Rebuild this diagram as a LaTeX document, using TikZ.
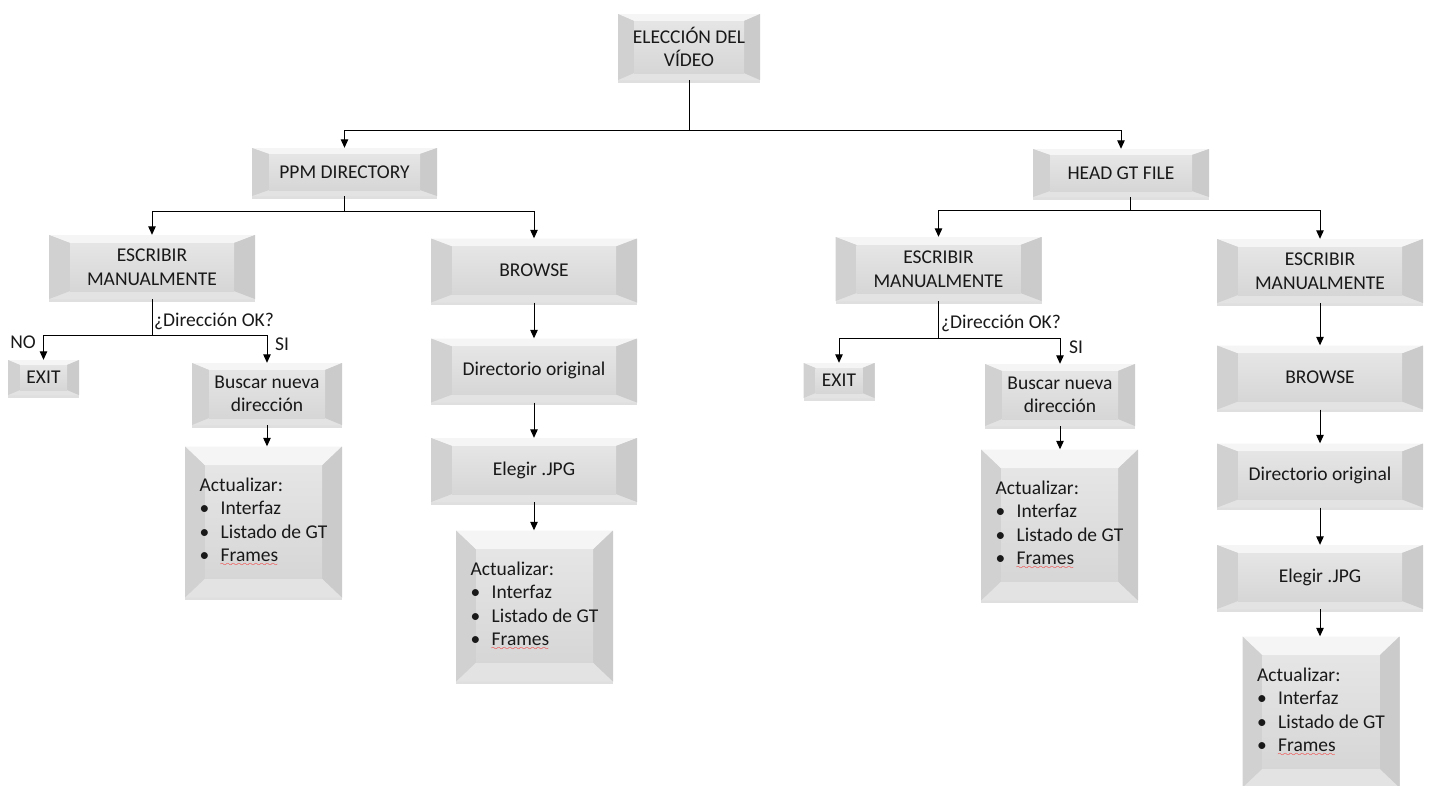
\documentclass[tikz,border=0pt]{standalone}
\usepackage{fontspec}
\setmainfont{Carlito}
\usetikzlibrary{arrows.meta,shadows}

\font\spellfont=lasy8
\newcommand\spellerr[1]{\setbox0\hbox{#1}%
  \rlap{\textcolor{red}{\lower4.5pt\hbox to\wd0{\leaders\hbox{\spellfont\char58}\hfill}}}#1}
\newcommand\actualizar{Actualizar:\\
  \makebox[21pt][l]{\textbullet}Interfaz\\
  \makebox[21pt][l]{\textbullet}Listado de GT\\
  \makebox[21pt][l]{\textbullet}\spellerr{Frames}}

\tikzset{
  bevelbox/.style 2 args={fill=gray!25, path picture={
      \coordinate (bbnw) at (path picture bounding box.north west);
      \coordinate (bbne) at (path picture bounding box.north east);
      \coordinate (bbsw) at (path picture bounding box.south west);
      \coordinate (bbse) at (path picture bounding box.south east);
      \fill[gray!8] (bbnw) -- (bbne) -- ([shift={(-#1,-#2)}]bbne) -- ([shift={(#1,-#2)}]bbnw) -- cycle;
      \fill[gray!22] (bbsw) -- (bbse) -- ([shift={(-#1,#2)}]bbse) -- ([shift={(#1,#2)}]bbsw) -- cycle;
      \fill[gray!36] (bbnw) -- (bbsw) -- ([shift={(#1,#2)}]bbsw) -- ([shift={(#1,-#2)}]bbnw) -- cycle;
      \fill[gray!41] (bbne) -- (bbse) -- ([shift={(-#1,#2)}]bbse) -- ([shift={(-#1,-#2)}]bbne) -- cycle;
      \shade[top color=gray!20, bottom color=gray!32]
        ([shift={(#1,-#2)}]bbnw) rectangle ([shift={(-#1,#2)}]bbse);
    }}
}

\begin{document}
\begin{tikzpicture}[x=1pt, y=-1pt,
    box/.style={font=\fontsize{19.5}{23.5}\selectfont, text=black!90, align=center, inner sep=0pt,
      drop shadow={opacity=0.25, shadow xshift=0pt, shadow yshift=-2.5pt}},
    step box/.style={box, bevelbox={21pt}{8pt}, minimum width=206pt, minimum height=64pt},
    head box/.style={box, bevelbox={17pt}{6pt}, minimum height=48pt},
    exit box/.style={box, bevelbox={12pt}{5pt}, minimum width=71pt, minimum height=35pt},
    find box/.style={box, bevelbox={17pt}{7pt}, minimum width=150pt, minimum height=62pt},
    upd box/.style={box, bevelbox={20pt}{19pt}, align=left, minimum width=157pt, minimum height=151pt},
    lbl/.style={font=\fontsize{19.5}{23.5}\selectfont, text=black!90, inner sep=0pt},
    lnk/.style={line width=1pt},
    arr/.style={lnk, -{Triangle[width=7.5pt,length=8.5pt]}}
  ]
  \useasboundingbox (0,0) rectangle (1430,785);

  % top
  \node[box, bevelbox={16pt}{7pt}, minimum width=142pt, minimum height=66pt] (video) at (689,47) {ELECCIÓN DEL\\VÍDEO};
  \node[head box, minimum width=185pt] (ppm) at (344.5,172) {PPM DIRECTORY};
  \node[head box, minimum width=176pt] (head) at (1121,173) {HEAD GT FILE};

  % left branch: PPM directory
  \node[step box] (escL) at (152,267) {ESCRIBIR\\MANUALMENTE};
  \node[exit box] (exitL) at (43.5,377.5) {EXIT};
  \node[find box] (buscL) at (267,394) {Buscar nueva\\dirección};
  \node[upd box] (actL) at (263.5,522) {\actualizar};
  \node[step box] (browseL) at (534,270.5) {BROWSE};
  \node[step box] (dirL) at (534,370.5) {Directorio original};
  \node[step box] (jpgL) at (534,470) {Elegir .JPG};
  \node[upd box] (actB) at (534.5,606) {\actualizar};

  % right branch: head GT file
  \node[step box] (escM) at (938.5,269) {ESCRIBIR\\MANUALMENTE};
  \node[exit box] (exitM) at (839,380.5) {EXIT};
  \node[find box] (buscM) at (1060,395) {Buscar nueva\\dirección};
  \node[upd box] (actM) at (1059.5,525) {\actualizar};
  \node[step box] (escR) at (1320,271) {ESCRIBIR\\MANUALMENTE};
  \node[step box] (browseR) at (1320,377.5) {BROWSE};
  \node[step box] (dirR) at (1320,475.5) {Directorio original};
  \node[step box] (jpgR) at (1320,577) {Elegir .JPG};
  \node[upd box] (actR) at (1321,712) {\actualizar};

  % splits
  \coordinate (jv) at (689,130);
  \draw[lnk] (video.south) -- (jv);
  \draw[arr] (jv) -| (ppm.north);
  \draw[arr] (jv) -| (head.north);

  \coordinate (jp) at (344.5,211);
  \draw[lnk] (ppm.south) -- (jp);
  \draw[arr] (jp) -| (escL.north);
  \draw[arr] (jp) -| (browseL.north);

  \coordinate (jh) at (1130,210);
  \draw[lnk] (head.south -| jh) -- (jh);
  \draw[arr] (jh) -| (escM.north);
  \draw[arr] (jh) -| (escR.north);

  \coordinate (jl) at (152,335);
  \draw[lnk] (escL.south) -- (jl);
  \draw[arr] (jl) -| (exitL.north);
  \draw[arr] (jl) -| (buscL.north);
  \node[lbl, anchor=west] (okL) at (154,321) {¿Dirección OK?};
  \node[lbl] (noL) at (23,342) {NO};
  \node[lbl] (siL) at (282,344) {SI};

  \coordinate (jm) at (938.5,338);
  \draw[lnk] (escM.south) -- (jm);
  \draw[arr] (jm) -| (exitM.north);
  \draw[arr] (jm) -| (buscM.north);
  \node[lbl, anchor=west] (okM) at (941,323) {¿Dirección OK?};
  \node[lbl] (siM) at (1076,347) {SI};

  % chains
  \draw[arr] (buscL) -- (buscL |- actL.north);
  \draw[arr] (browseL) -- (dirL);
  \draw[arr] (dirL) -- (jpgL);
  \draw[arr] (jpgL) -- (jpgL |- actB.north);
  \draw[arr] (buscM) -- (buscM |- actM.north);
  \draw[arr] (escR) -- (browseR);
  \draw[arr] (browseR) -- (dirR);
  \draw[arr] (dirR) -- (jpgR);
  \draw[arr] (jpgR) -- (jpgR |- actR.north);

\end{tikzpicture}
\end{document}
